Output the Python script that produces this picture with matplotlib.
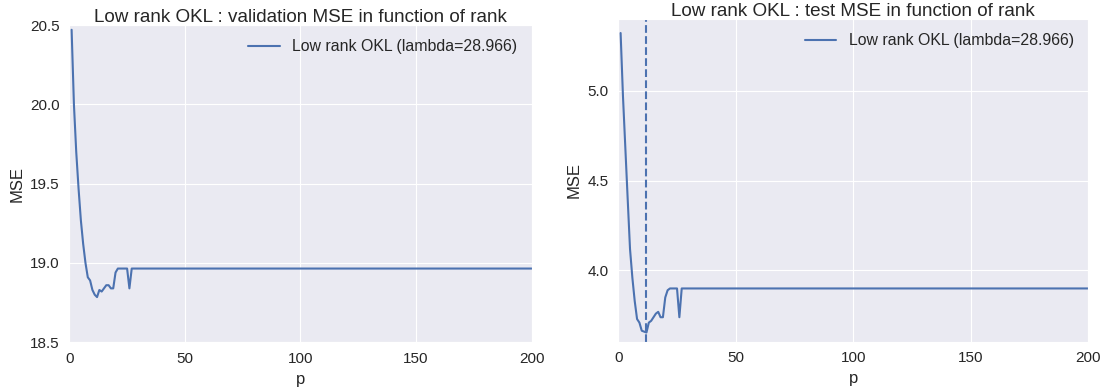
import numpy as np
import matplotlib
matplotlib.use("Agg")
import matplotlib.pyplot as plt
import seaborn as sns

# rank p = 1..200
ranks = list(range(1, 201))

# validation MSE (first 27 ranks, then flat plateau)
val_head = [20.47, 20.00, 19.70, 19.47, 19.27, 19.12, 19.00, 18.91, 18.89, 18.83,
            18.80, 18.785, 18.83, 18.82, 18.84, 18.86, 18.86, 18.84, 18.84, 18.94,
            18.965, 18.965, 18.965, 18.965, 18.965, 18.84, 18.965]
val_plateau = 18.965

# test MSE
test_head = [5.32, 4.97, 4.68, 4.40, 4.12, 3.96, 3.83, 3.73, 3.71, 3.665,
             3.66, 3.655, 3.71, 3.72, 3.74, 3.76, 3.77, 3.74, 3.74, 3.85,
             3.89, 3.90, 3.90, 3.90, 3.90, 3.74, 3.90]
test_plateau = 3.90

val_mse = val_head + [val_plateau] * (len(ranks) - len(val_head))
test_mse = test_head + [test_plateau] * (len(ranks) - len(test_head))

label = "Low rank OKL (lambda=28.966)"
blue = "#4C72B0"

sns.set_style("darkgrid")
plt.rcParams["font.family"] = ["Liberation Sans", "DejaVu Sans"]

fig = plt.figure(figsize=(11.07, 3.89), dpi=100)
ax1 = fig.add_axes([0.0626, 0.120, 0.4177, 0.8157])
ax2 = fig.add_axes([0.5585, 0.1216, 0.4246, 0.8296])

# left: validation
ax1.plot(ranks, val_mse, color=blue, lw=1.5, label=label)
ax1.set_xlim(0, 200)
ax1.set_ylim(18.5, 20.5)
ax1.set_yticks([18.5, 19.0, 19.5, 20.0, 20.5])
ax1.set_title("Low rank OKL : validation MSE in function of rank", fontsize=13.6, pad=2)

# right: test, with the best rank marked
ax2.plot(ranks, test_mse, color=blue, lw=1.5, label=label)
best = ranks[int(np.argmin(test_mse))]
ax2.axvline(best, color=blue, ls="--", lw=1.5)
ax2.set_xlim(0, 200)
ax2.set_ylim(3.604, 5.398)
ax2.set_yticks([4.0, 4.5, 5.0])
ax2.set_title("Low rank OKL : test MSE in function of rank", fontsize=13.6, pad=2.5)

for ax in (ax1, ax2):
    ax.set_xticks([0, 50, 100, 150, 200])
    ax.set_xlabel("p", fontsize=12)
    ax.set_ylabel("MSE", fontsize=12)
    ax.tick_params(labelsize=11)
    ax.legend(loc="upper right", frameon=False, fontsize=11.4)

fig.savefig("out.png", dpi=100)
